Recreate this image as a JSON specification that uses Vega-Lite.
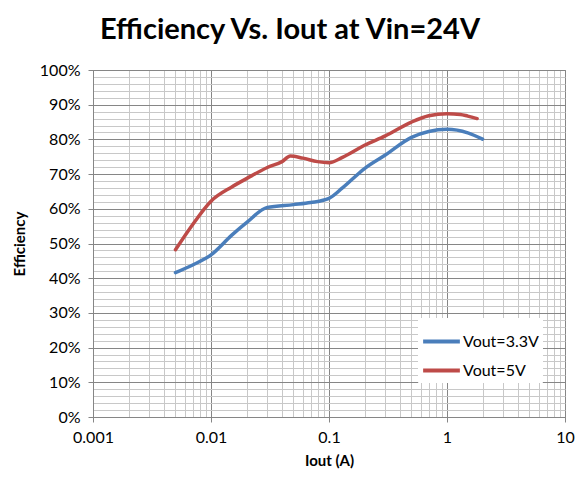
{
  "$schema": "https://vega.github.io/schema/vega-lite/v6.json",
  "width": 472,
  "height": 347,
  "autosize": "none",
  "padding": {"left": 93, "top": 70, "right": 15, "bottom": 60},
  "background": "white",
  "config": {
    "font": "Lato",
    "view": {"stroke": "#868686", "strokeWidth": 1}
  },
  "title": {
    "text": "Efficiency Vs. Iout at Vin=24V",
    "font": "Lato",
    "fontSize": 29,
    "fontWeight": "bold",
    "color": "#000000",
    "anchor": "middle",
    "dx": -39,
    "offset": 17
  },
  "data": {
    "values": [
      {"iout": 0.005, "eff": 0.416, "series": "Vout=3.3V"},
      {"iout": 0.007, "eff": 0.438, "series": "Vout=3.3V"},
      {"iout": 0.01, "eff": 0.467, "series": "Vout=3.3V"},
      {"iout": 0.015, "eff": 0.524, "series": "Vout=3.3V"},
      {"iout": 0.02, "eff": 0.56, "series": "Vout=3.3V"},
      {"iout": 0.03, "eff": 0.604, "series": "Vout=3.3V"},
      {"iout": 0.05, "eff": 0.612, "series": "Vout=3.3V"},
      {"iout": 0.07, "eff": 0.618, "series": "Vout=3.3V"},
      {"iout": 0.1, "eff": 0.63, "series": "Vout=3.3V"},
      {"iout": 0.13, "eff": 0.66, "series": "Vout=3.3V"},
      {"iout": 0.2, "eff": 0.716, "series": "Vout=3.3V"},
      {"iout": 0.3, "eff": 0.755, "series": "Vout=3.3V"},
      {"iout": 0.5, "eff": 0.806, "series": "Vout=3.3V"},
      {"iout": 0.7, "eff": 0.823, "series": "Vout=3.3V"},
      {"iout": 1.0, "eff": 0.829, "series": "Vout=3.3V"},
      {"iout": 1.5, "eff": 0.819, "series": "Vout=3.3V"},
      {"iout": 2.0, "eff": 0.801, "series": "Vout=3.3V"},
      {"iout": 0.005, "eff": 0.482, "series": "Vout=5V"},
      {"iout": 0.007, "eff": 0.555, "series": "Vout=5V"},
      {"iout": 0.01, "eff": 0.622, "series": "Vout=5V"},
      {"iout": 0.015, "eff": 0.663, "series": "Vout=5V"},
      {"iout": 0.02, "eff": 0.687, "series": "Vout=5V"},
      {"iout": 0.03, "eff": 0.719, "series": "Vout=5V"},
      {"iout": 0.04, "eff": 0.736, "series": "Vout=5V"},
      {"iout": 0.047, "eff": 0.752, "series": "Vout=5V"},
      {"iout": 0.06, "eff": 0.746, "series": "Vout=5V"},
      {"iout": 0.08, "eff": 0.736, "series": "Vout=5V"},
      {"iout": 0.1, "eff": 0.733, "series": "Vout=5V"},
      {"iout": 0.13, "eff": 0.748, "series": "Vout=5V"},
      {"iout": 0.2, "eff": 0.783, "series": "Vout=5V"},
      {"iout": 0.3, "eff": 0.81, "series": "Vout=5V"},
      {"iout": 0.5, "eff": 0.85, "series": "Vout=5V"},
      {"iout": 0.7, "eff": 0.868, "series": "Vout=5V"},
      {"iout": 1.0, "eff": 0.874, "series": "Vout=5V"},
      {"iout": 1.3, "eff": 0.872, "series": "Vout=5V"},
      {"iout": 1.5, "eff": 0.867, "series": "Vout=5V"},
      {"iout": 1.8, "eff": 0.86, "series": "Vout=5V"}
    ]
  },
  "mark": {"type": "line", "interpolate": "monotone", "strokeWidth": 3.5, "strokeCap": "round"},
  "encoding": {
    "x": {
      "field": "iout",
      "type": "quantitative",
      "scale": {"type": "log", "domain": [0.001, 10], "nice": false},
      "axis": {
        "title": "Iout (A)",
        "titleFont": "Lato",
        "titleFontSize": 15,
        "titleFontWeight": "bold",
        "titleColor": "#000000",
        "titlePadding": 8,
        "values": [0.001,0.002,0.003,0.004,0.005,0.006,0.007,0.008,0.009,0.01,0.02,0.03,0.04,0.05,0.06,0.07,0.08,0.09,0.1,0.2,0.3,0.4,0.5,0.6,0.7,0.8,0.9,1,2,3,4,5,6,7,8,9,10],
        "labelExpr": "abs(log(datum.value)/LN10 - round(log(datum.value)/LN10)) < 1e-6 ? (datum.value >= 1 ? format(datum.value, 'd') : format(datum.value, '~g')) : ''",
        "labelFont": "Lato",
        "labelFontSize": 16,
        "labelColor": "#000000",
        "labelPadding": 7,
        "labelFlush": false,
        "labelOverlap": false,
        "domainColor": "#868686",
        "tickColor": "#868686",
        "tickSize": 5,
        "tickOpacity": {"condition": {"test": "abs(log(datum.value)/LN10 - round(log(datum.value)/LN10)) < 1e-6", "value": 1}, "value": 0},
        "grid": true,
        "gridColor": {"condition": {"test": "abs(log(datum.value)/LN10 - round(log(datum.value)/LN10)) < 1e-6", "value": "#868686"}, "value": "#c8c8c8"},
        "gridWidth": 1,
        "gridOpacity": 1
      }
    },
    "y": {
      "field": "eff",
      "type": "quantitative",
      "scale": {"domain": [0, 1], "nice": false},
      "axis": {
        "title": "Efficiency",
        "titleFont": "Lato",
        "titleFontSize": 15,
        "titleFontWeight": "bold",
        "titleColor": "#000000",
        "titlePadding": 12,
        "values": [0,0.02,0.04,0.06,0.08,0.1,0.12,0.14,0.16,0.18,0.2,0.22,0.24,0.26,0.28,0.3,0.32,0.34,0.36,0.38,0.4,0.42,0.44,0.46,0.48,0.5,0.52,0.54,0.56,0.58,0.6,0.62,0.64,0.66,0.68,0.7,0.72,0.74,0.76,0.78,0.8,0.82,0.84,0.86,0.88,0.9,0.92,0.94,0.96,0.98,1],
        "labelExpr": "abs(datum.value*10 - round(datum.value*10)) < 1e-6 ? format(datum.value, '.0%') : ''",
        "labelFont": "Lato",
        "labelFontSize": 16,
        "labelColor": "#000000",
        "labelPadding": 8,
        "labelFlush": false,
        "labelOverlap": false,
        "domainColor": "#868686",
        "tickColor": "#868686",
        "tickSize": 5,
        "tickOpacity": {"condition": {"test": "abs(datum.value*10 - round(datum.value*10)) < 1e-6", "value": 1}, "value": 0},
        "grid": true,
        "gridColor": {"condition": {"test": "abs(datum.value*10 - round(datum.value*10)) < 1e-6", "value": "#868686"}, "value": "#c8c8c8"},
        "gridWidth": 1,
        "gridOpacity": 1
      }
    },
    "color": {
      "field": "series",
      "type": "nominal",
      "scale": {"domain": ["Vout=3.3V", "Vout=5V"], "range": ["#4a7ebb", "#be4b48"]},
      "legend": {
        "title": null,
        "orient": "none",
        "legendX": 325,
        "legendY": 248,
        "fillColor": "white",
        "strokeColor": "white",
        "padding": 3,
        "symbolType": "stroke",
        "symbolSize": 1350,
        "symbolStrokeWidth": 4,
        "labelFont": "Lato",
        "labelFontSize": 16,
        "labelColor": "#000000",
        "labelOffset": 1,
        "rowPadding": -4
      }
    }
  }
}
